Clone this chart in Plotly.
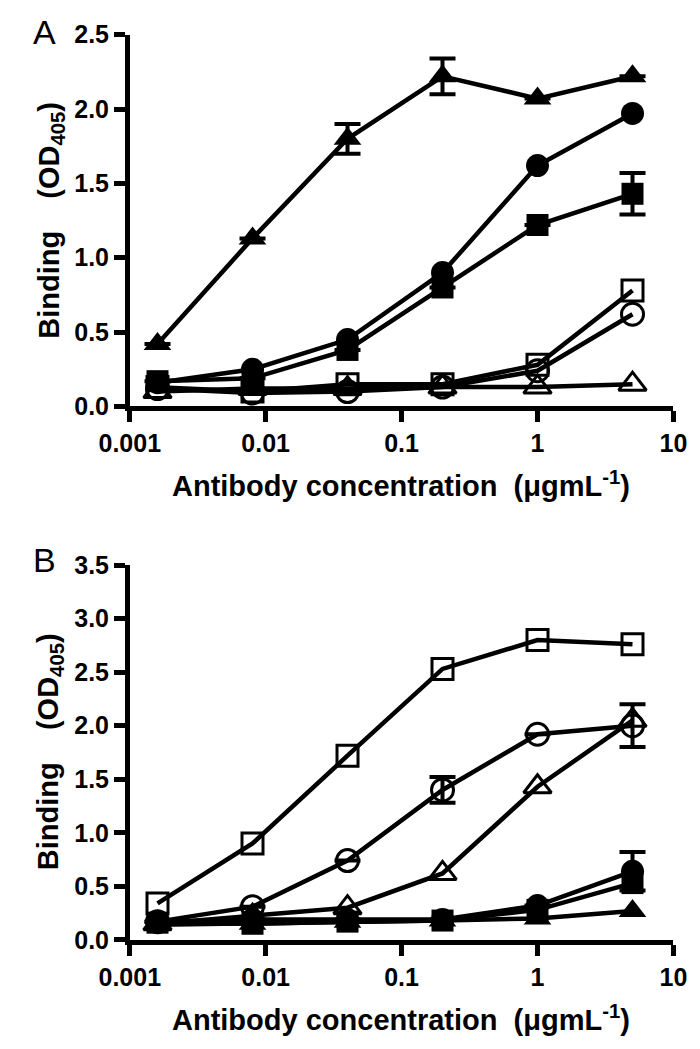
import plotly.graph_objects as go

# ---------------- data ----------------
conc = [0.0016, 0.008, 0.04, 0.2, 1, 5]

# Panel A
A_tri_fill = [0.42, 1.13, 1.80, 2.22, 2.07, 2.22]
A_tri_fill_err = [0, 0, 0.10, 0.12, 0, 0]
A_circ_fill = [0.16, 0.25, 0.45, 0.90, 1.62, 1.97]
A_sq_fill = [0.17, 0.19, 0.38, 0.80, 1.22, 1.43]
A_sq_fill_err = [0, 0, 0, 0, 0, 0.14]
A_sq_open = [0.13, 0.10, 0.15, 0.15, 0.28, 0.78]
A_circ_open = [0.12, 0.09, 0.10, 0.13, 0.24, 0.62]
A_tri_open = [0.10, 0.12, 0.12, 0.13, 0.13, 0.15]

# Panel B
B_sq_open = [0.34, 0.90, 1.72, 2.53, 2.80, 2.76]
B_circ_open = [0.17, 0.31, 0.74, 1.40, 1.92, 2.00]
B_circ_open_err = [0, 0, 0, 0.12, 0, 0.20]
B_tri_open = [0.15, 0.22, 0.30, 0.62, 1.43, 2.05]
B_circ_fill = [0.17, 0.19, 0.19, 0.19, 0.32, 0.64]
B_circ_fill_err = [0, 0, 0, 0, 0, 0.18]
B_sq_fill = [0.16, 0.15, 0.17, 0.18, 0.28, 0.53]
B_tri_fill = [0.14, 0.15, 0.17, 0.18, 0.20, 0.27]

x_tickvals = [0.001, 0.01, 0.1, 1, 10]
x_ticktext = ["0.001", "0.01", "0.1", "1", "10"]

FONT = "Liberation Sans, Arial, sans-serif"
LW = 4.5
W, H = 700.0, 1049.0
OFF = 8  # page body margin offset in the screenshot

fig = go.Figure()


def add(y, symbol, size, xa, ya, err=None):
    openm = symbol.endswith("-open")
    tr = dict(
        x=conc, y=y, mode="lines+markers", xaxis=xa, yaxis=ya,
        line=dict(color="black", width=LW),
        marker=dict(symbol=symbol, size=size, color="black",
                    line=dict(color="black", width=3 if openm else 0)),
        cliponaxis=False, showlegend=False,
    )
    if err is not None:
        tr["error_y"] = dict(type="data", array=err, visible=True,
                             color="black", thickness=4, width=13)
    fig.add_trace(go.Scatter(**tr))


# Panel A
add(A_tri_open, "triangle-up-open", 24, "x", "y")
add(A_circ_open, "circle-open", 22, "x", "y")
add(A_sq_open, "square-open", 21, "x", "y")
add(A_sq_fill, "square", 22, "x", "y", A_sq_fill_err)
add(A_circ_fill, "circle", 23, "x", "y")
add(A_tri_fill, "triangle-up", 24, "x", "y", A_tri_fill_err)

# Panel B
add(B_tri_fill, "triangle-up", 24, "x2", "y2")
add(B_sq_fill, "square", 22, "x2", "y2")
add(B_circ_fill, "circle", 23, "x2", "y2", B_circ_fill_err)
add(B_tri_open, "triangle-up-open", 24, "x2", "y2")
add(B_circ_open, "circle-open", 22, "x2", "y2", B_circ_open_err)
add(B_sq_open, "square-open", 21, "x2", "y2")


def px(v):
    return (v - OFF) / W


def py(v):
    return 1 - (v - OFF) / H


xdom = [px(105), px(686)]

axis_common = dict(
    showline=True, linecolor="black", linewidth=LW, mirror=False,
    ticks="outside", ticklen=11, tickwidth=LW, tickcolor="black",
    showgrid=False, zeroline=False,
    tickfont=dict(family=FONT, size=25, color="black", weight="bold"),
)

fig.update_layout(
    width=700, height=1049, autosize=False,
    margin=dict(l=0, r=0, t=0, b=0),
    paper_bgcolor="white", plot_bgcolor="white",
    xaxis=dict(type="log", range=[-3, 1], domain=xdom, anchor="y",
               tickvals=x_tickvals, ticktext=x_ticktext, **axis_common),
    yaxis=dict(range=[0, 2.5], domain=[py(403), py(21)], anchor="x",
               dtick=0.5, tick0=0, tickformat=".1f", **axis_common),
    xaxis2=dict(type="log", range=[-3, 1], domain=xdom, anchor="y2",
                tickvals=x_tickvals, ticktext=x_ticktext, **axis_common),
    yaxis2=dict(range=[0, 3.5], domain=[py(951), py(566)], anchor="x2",
                dtick=0.5, tick0=0, tickformat=".1f", **axis_common),
)

title_font = dict(family=FONT, size=29, color="black", weight="bold")
xtitle = "Antibody concentration\u00a0\u00a0(\u03bcgmL<sup>-1</sup>)"
ytitle = "Binding\u00a0\u00a0\u00a0\u00a0(OD<sub>405</sub>)"

ann = []
for yc_x, yc_y, lab, ly in [(483, 212, "A", 18), (1031, 758, "B", 561)]:
    ann.append(dict(text=xtitle, x=px(395), y=py(yc_x), xref="paper", yref="paper",
                    xanchor="center", yanchor="middle", showarrow=False, font=title_font))
    ann.append(dict(text=ytitle, x=px(20), y=py(yc_y), xref="paper", yref="paper",
                    xanchor="center", yanchor="middle", showarrow=False, textangle=-90,
                    font=title_font))
    ann.append(dict(text=lab, x=px(14), y=py(ly), xref="paper", yref="paper",
                    xanchor="center", yanchor="middle", showarrow=False,
                    font=dict(family=FONT, size=34, color="black")))
fig.update_layout(annotations=ann)

fig.write_html("out.html")
